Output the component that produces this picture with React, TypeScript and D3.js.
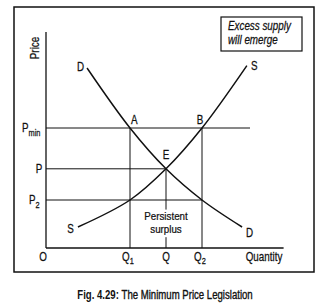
import React from "react";
import * as d3 from "d3";

const demandQ = [1.71, 3.5, 5, 6.5, 8.17];
const demandP = [7.5, 5, 3.3, 2.0, 0.875];
const supplyQ = [1.33, 3.5, 5, 6.5, 8.37];
const supplyP = [0.875, 2.0, 3.3, 5, 7.6];
const pMin = 5;
const pEq = 3.3;
const p2 = 2.0;
const q1 = 3.5;
const qEq = 5;
const q2 = 6.5;
const xMax = 9.9;
const yMax = 9;

const FONT = "'Liberation Sans', Arial, sans-serif";

type TProps = {
  x: number;
  y: number;
  anchor?: "start" | "middle" | "end";
  sx?: number;
  size?: number;
  bold?: boolean;
  italic?: boolean;
  rotate?: number;
  children: React.ReactNode;
};

function T({ x, y, anchor = "start", sx = 0.82, size = 12, bold, italic, rotate = 0, children }: TProps) {
  return (
    <g transform={`translate(${x},${y}) rotate(${rotate}) scale(${sx},1)`}>
      <text
        x={0}
        y={0}
        textAnchor={anchor}
        fontFamily={FONT}
        fontSize={size}
        fontWeight={bold ? "bold" : "normal"}
        fontStyle={italic ? "italic" : "normal"}
        fill="#111"
        stroke="#111"
        strokeWidth={bold ? 0 : 0.25}
      >
        {children}
      </text>
    </g>
  );
}

export default function App() {
  const x = d3.scaleLinear().domain([0, 10]).range([46, 286]);
  const y = d3.scaleLinear().domain([0, 9]).range([248, 32]);
  const line = d3
    .line<[number, number]>()
    .x((d) => x(d[0]))
    .y((d) => y(d[1]))
    .curve(d3.curveCatmullRom.alpha(0.5));
  const dPts = demandQ.map((q, i) => [q, demandP[i]] as [number, number]);
  const sPts = supplyQ.map((q, i) => [q, supplyP[i]] as [number, number]);
  return (
    <svg
      width={324}
      height={304}
      style={{ position: "absolute", left: 0, top: 0, background: "#fff" }}
    >
      <rect x={14} y={7} width={300} height={265} fill="none" stroke="#111" strokeWidth={1.5} />
      {/* axes */}
      <line x1={x(0)} y1={y(yMax)} x2={x(0)} y2={y(0)} stroke="#111" strokeWidth={1.3} />
      <line x1={x(0)} y1={y(0)} x2={x(xMax)} y2={y(0)} stroke="#111" strokeWidth={1.3} />
      {/* price lines */}
      <line x1={x(0)} y1={y(pMin)} x2={x(8.5)} y2={y(pMin)} stroke="#111" strokeWidth={1} />
      <line x1={x(0)} y1={y(pEq)} x2={x(qEq)} y2={y(pEq)} stroke="#111" strokeWidth={1} />
      <line x1={x(0)} y1={y(p2)} x2={x(q2)} y2={y(p2)} stroke="#111" strokeWidth={1} />
      {/* quantity lines */}
      <line x1={x(q1)} y1={y(pMin)} x2={x(q1)} y2={y(0)} stroke="#111" strokeWidth={1} />
      <line x1={x(q2)} y1={y(pMin)} x2={x(q2)} y2={y(0)} stroke="#111" strokeWidth={1} />
      <line x1={x(qEq)} y1={y(pEq)} x2={x(qEq)} y2={y(1.6)} stroke="#111" strokeWidth={1} />
      <line x1={x(qEq)} y1={y(0.45)} x2={x(qEq)} y2={y(0)} stroke="#111" strokeWidth={1} />
      {/* curves */}
      <path d={line(dPts) || ""} fill="none" stroke="#111" strokeWidth={1.5} />
      <path d={line(sPts) || ""} fill="none" stroke="#111" strokeWidth={1.5} />
      {/* curve labels */}
      <T x={x(demandQ[0]) - 3} y={y(demandP[0]) + 3} anchor="end">D</T>
      <T x={x(supplyQ[4]) + 4} y={y(supplyP[4]) + 4}>S</T>
      <T x={x(supplyQ[0]) - 4} y={y(supplyP[0]) + 6} anchor="end">S</T>
      <T x={x(demandQ[4]) + 4} y={y(demandP[4]) + 10}>D</T>
      <T x={x(q1) + 1} y={y(pMin) - 4}>A</T>
      <T x={x(q2) - 2} y={y(pMin) - 4} anchor="middle">B</T>
      <T x={x(qEq)} y={y(pEq) - 10} anchor="middle">E</T>
      {/* y labels */}
      <T x={39} y={48} anchor="middle" rotate={-90}>Price</T>
      <T x={22} y={y(pMin) + 4}>
        P<tspan fontSize={9} dy={4}>min</tspan>
      </T>
      <T x={39} y={y(pEq) + 4} anchor="middle">P</T>
      <T x={29} y={y(p2) + 4}>
        P<tspan fontSize={9} dy={4}>2</tspan>
      </T>
      {/* x labels */}
      <T x={43} y={261} anchor="middle">O</T>
      <T x={x(q1) - 2} y={261} anchor="middle">
        Q<tspan fontSize={9} dy={3}>1</tspan>
      </T>
      <T x={x(qEq)} y={261} anchor="middle">Q</T>
      <T x={x(q2) - 2} y={261} anchor="middle">
        Q<tspan fontSize={9} dy={3}>2</tspan>
      </T>
      <T x={264} y={261} anchor="middle">Quantity</T>
      {/* surplus label */}
      <T x={x(qEq)} y={219.5} anchor="middle" size={11.5} sx={0.85}>Persistent</T>
      <T x={x(qEq)} y={232.5} anchor="middle" size={11.5} sx={0.85}>surplus</T>
      {/* box */}
      <rect x={221} y={17} width={81} height={34} fill="#fff" stroke="#111" strokeWidth={1.2} />
      <T x={228} y={30} italic>Excess supply</T>
      <T x={228} y={44} italic>will emerge</T>
      {/* caption */}
      <T x={165} y={299} anchor="middle" bold sx={0.8}>
        Fig. 4.29: <tspan fontWeight="normal" stroke="#111" strokeWidth={0.35}>The Minimum Price Legislation</tspan>
      </T>
    </svg>
  );
}
